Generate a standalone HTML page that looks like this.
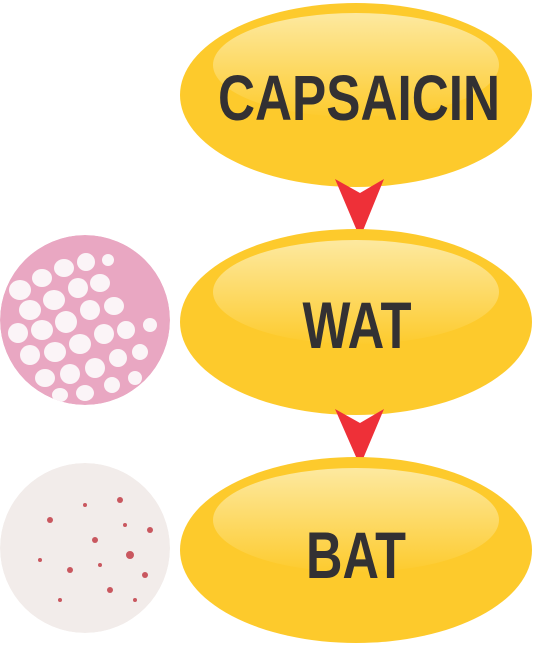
<!DOCTYPE html>
<html><head><meta charset="utf-8"><style>
html,body{margin:0;padding:0;background:#fff;}
svg{display:block;}
text{font-family:"Liberation Sans",sans-serif;font-weight:bold;fill:#333133;}
</style></head><body>
<svg width="533" height="647" viewBox="0 0 533 647">
<defs>
<linearGradient id="hl" x1="0" y1="0" x2="0" y2="1">
<stop offset="0" stop-color="#fde9a0"/><stop offset="1" stop-color="#fdcb2e"/>
</linearGradient>
<clipPath id="c1"><circle cx="85" cy="320" r="85"/></clipPath>
<clipPath id="c2"><circle cx="85" cy="548" r="85"/></clipPath>
</defs>

<g>
<ellipse cx="356" cy="95" rx="176" ry="92" fill="#fdca2c"/>
<ellipse cx="356" cy="65" rx="143" ry="52" fill="url(#hl)"/>
<text x="359" y="120" font-size="64" text-anchor="middle" textLength="282" lengthAdjust="spacingAndGlyphs">CAPSAICIN</text>
</g>
<polygon points="335,179 360,193 384,179 360,238" fill="#ee3038"/>

<g>
<ellipse cx="356" cy="322" rx="176" ry="93" fill="#fdca2c"/>
<ellipse cx="356" cy="292" rx="143" ry="52" fill="url(#hl)"/>
<text x="357" y="348" font-size="66" text-anchor="middle" textLength="109" lengthAdjust="spacingAndGlyphs">WAT</text>
</g>
<polygon points="335,409 360,423 384,409 360,466" fill="#ee3038"/>

<g>
<ellipse cx="356" cy="550" rx="176" ry="93" fill="#fdca2c"/>
<ellipse cx="356" cy="520" rx="143" ry="52" fill="url(#hl)"/>
<text x="356" y="578" font-size="66" text-anchor="middle" textLength="100" lengthAdjust="spacingAndGlyphs">BAT</text>
</g>

<g clip-path="url(#c1)">
<circle cx="85" cy="320" r="85" fill="#e9a7c2"/>
<g fill="#fbf4f7">
<ellipse cx="20" cy="290" rx="11" ry="10"/><ellipse cx="42" cy="278" rx="10" ry="9"/><ellipse cx="64" cy="268" rx="10" ry="9"/>
<ellipse cx="86" cy="262" rx="9" ry="9"/><ellipse cx="30" cy="310" rx="11" ry="10"/><ellipse cx="54" cy="300" rx="11" ry="10"/>
<ellipse cx="78" cy="288" rx="10" ry="10"/><ellipse cx="100" cy="283" rx="10" ry="9"/><ellipse cx="18" cy="333" rx="10" ry="10"/>
<ellipse cx="42" cy="330" rx="11" ry="10"/><ellipse cx="66" cy="322" rx="11" ry="11"/><ellipse cx="90" cy="310" rx="10" ry="10"/>
<ellipse cx="114" cy="306" rx="10" ry="9"/><ellipse cx="30" cy="355" rx="10" ry="10"/><ellipse cx="55" cy="352" rx="11" ry="10"/>
<ellipse cx="80" cy="344" rx="11" ry="10"/><ellipse cx="104" cy="334" rx="10" ry="10"/><ellipse cx="126" cy="330" rx="9" ry="9"/>
<ellipse cx="45" cy="378" rx="10" ry="9"/><ellipse cx="70" cy="374" rx="10" ry="10"/><ellipse cx="95" cy="368" rx="10" ry="10"/>
<ellipse cx="118" cy="358" rx="9" ry="9"/><ellipse cx="140" cy="352" rx="8" ry="8"/><ellipse cx="85" cy="393" rx="9" ry="8"/>
<ellipse cx="112" cy="385" rx="8" ry="8"/><ellipse cx="150" cy="325" rx="7" ry="7"/><ellipse cx="60" cy="395" rx="8" ry="7"/>
<ellipse cx="108" cy="260" rx="6" ry="6"/><ellipse cx="135" cy="378" rx="7" ry="7"/>
</g>
</g>

<g clip-path="url(#c2)">
<circle cx="85" cy="548" r="85" fill="#f2ecea"/>
<g fill="#c9575f">
<circle cx="50" cy="520" r="3"/><circle cx="120" cy="500" r="3"/><circle cx="95" cy="540" r="3"/>
<circle cx="130" cy="555" r="4"/><circle cx="70" cy="570" r="3"/><circle cx="110" cy="590" r="3"/>
<circle cx="40" cy="560" r="2"/><circle cx="150" cy="530" r="3"/><circle cx="135" cy="600" r="2"/>
<circle cx="85" cy="505" r="2"/><circle cx="60" cy="600" r="2"/><circle cx="145" cy="575" r="3"/>
<circle cx="125" cy="525" r="2"/><circle cx="100" cy="565" r="2"/>
</g>
</g>
</svg>
</body></html>
